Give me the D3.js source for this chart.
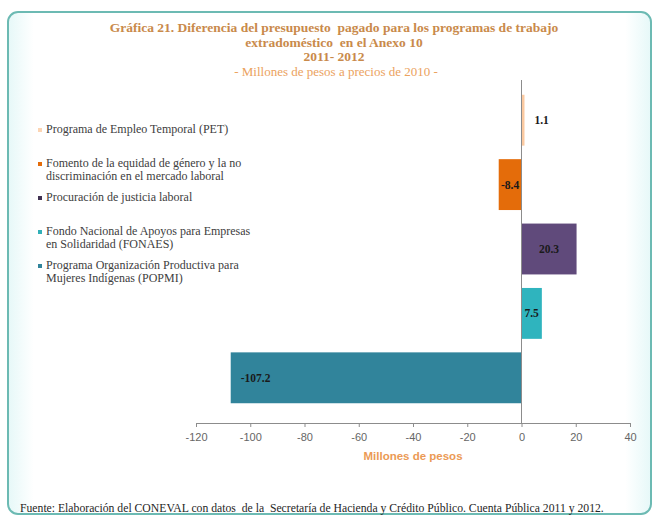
<!DOCTYPE html>
<html>
<head>
<meta charset="utf-8">
<script src="https://cdn.jsdelivr.net/npm/d3@7"></script>
<style>
  body { margin: 0; background: #fff; }
  text { white-space: pre; }
</style>
</head>
<body>
<div id="chart"></div>
<script>
// data
const programas = [
  "Programa de Empleo Temporal (PET)",
  "Fomento de la equidad de género y la no discriminación en el mercado laboral",
  "Procuración de justicia laboral",
  "Fondo Nacional de Apoyos para Empresas en Solidaridad (FONAES)",
  "Programa Organización Productiva para Mujeres Indígenas (POPMI)",
];
const legendLines = [
  ["Programa de Empleo Temporal (PET)"],
  ["Fomento de la equidad de género y la no", "discriminación en el mercado laboral"],
  ["Procuración de justicia laboral"],
  ["Fondo Nacional de Apoyos para Empresas", "en Solidaridad (FONAES)"],
  ["Programa Organización Productiva para", "Mujeres Indígenas (POPMI)"],
];
const diferencias = [1.1, -8.4, 20.3, 7.5, -107.2];
const barColors = ["#fbc9a0", "#e46c0a", "#604a7b", "#2fb4be", "#31849b"];
const legendColors = ["#fcd5b4", "#e46c0a", "#403151", "#31b0b8", "#31849b"];
const xTicks = [-120, -100, -80, -60, -40, -20, 0, 20, 40];

const titleLines = [
  "Gráfica 21. Diferencia del presupuesto  pagado para los programas de trabajo",
  "extradoméstico  en el Anexo 10",
  "2011- 2012",
];
const subtitle = "- Millones de pesos a precios de 2010 -";
const xTitle = "Millones de pesos";
const fuente = "Fuente: Elaboración del CONEVAL con datos  de la  Secretaría de Hacienda y Crédito Público. Cuenta Pública 2011 y 2012.";

const W = 653, H = 520;
const serif = "'Liberation Serif', 'DejaVu Serif', serif";
const sans = "'Liberation Sans', Arial, sans-serif";

const svg = d3.select("#chart").append("svg")
  .attr("width", W).attr("height", H);

// frame
const defs = svg.append("defs");
const glow = defs.append("linearGradient").attr("id", "glow")
  .attr("x1", 0).attr("x2", 1).attr("y1", 0).attr("y2", 0);
glow.append("stop").attr("offset", "0%").attr("stop-color", "#e6f8f8");
glow.append("stop").attr("offset", "4%").attr("stop-color", "#ffffff");
glow.append("stop").attr("offset", "96%").attr("stop-color", "#ffffff");
glow.append("stop").attr("offset", "100%").attr("stop-color", "#e6f8f8");

svg.append("rect")
  .attr("x", 8).attr("y", 12).attr("width", 643).attr("height", 502)
  .attr("rx", 10)
  .attr("fill", "url(#glow)")
  .attr("stroke", "#6cbab3").attr("stroke-width", 2);

// titles
svg.append("g").selectAll("text")
  .data(titleLines).join("text")
  .attr("x", 334).attr("y", (d, i) => 32 + i * 14.5)
  .attr("text-anchor", "middle")
  .attr("font-family", serif).attr("font-weight", "bold").attr("font-size", 13.5)
  .attr("fill", "#c98a4b")
  .text(d => d);

svg.append("text")
  .attr("x", 336).attr("y", 76)
  .attr("text-anchor", "middle")
  .attr("font-family", serif).attr("font-size", 13)
  .attr("fill", "#eba25e")
  .text(subtitle);

// scales
const x = d3.scaleLinear().domain([-120, 40]).range([196, 630]);
const y = d3.scaleBand().domain(programas).range([88, 410]).paddingInner(0.21).paddingOuter(0.105);
const axisY = 423;

// bars
svg.append("g").selectAll("rect")
  .data(diferencias).join("rect")
  .attr("x", d => x(Math.min(0, d)))
  .attr("y", (d, i) => y(programas[i]))
  .attr("width", d => Math.abs(x(d) - x(0)))
  .attr("height", y.bandwidth())
  .attr("fill", (d, i) => barColors[i]);

// zero line
svg.append("line")
  .attr("x1", x(0)).attr("x2", x(0))
  .attr("y1", 80).attr("y2", axisY)
  .attr("stroke", "#8c8c8c").attr("stroke-width", 1);

// bar labels
svg.append("g").selectAll("text")
  .data(diferencias).join("text")
  .attr("x", d => {
    const w = Math.abs(x(d) - x(0));
    if (w < 12) return x(d) + 10;
    if (w > 200) return x(d) + 10;
    return (x(d) + x(0)) / 2;
  })
  .attr("text-anchor", d => {
    const w = Math.abs(x(d) - x(0));
    return (w < 12 || w > 200) ? "start" : "middle";
  })
  .attr("y", (d, i) => y(programas[i]) + y.bandwidth() / 2 + 4)
  .attr("font-family", serif).attr("font-weight", "bold").attr("font-size", 11.5)
  .attr("fill", "#1a1a1a")
  .text(d => d.toFixed(1));

// axis
const xAxis = svg.append("g")
  .attr("transform", `translate(0, ${axisY})`)
  .call(d3.axisBottom(x).tickValues(xTicks).tickSize(4).tickPadding(6)
    .tickFormat(d => String(d)));
xAxis.select(".domain").attr("stroke", "#8c8c8c");
xAxis.selectAll(".tick line").attr("stroke", "#8c8c8c");
xAxis.selectAll(".tick text")
  .attr("font-family", sans).attr("font-size", 11).attr("fill", "#666");

svg.append("text")
  .attr("x", 413).attr("y", 460)
  .attr("text-anchor", "middle")
  .attr("font-family", sans).attr("font-weight", "bold").attr("font-size", 11.5)
  .attr("fill", "#eb9a55")
  .text(xTitle);

// legend
const legend = svg.append("g").selectAll("g")
  .data(legendLines).join("g")
  .attr("transform", (d, i) => `translate(38, ${133 + i * 34})`);

legend.append("rect")
  .attr("x", 0).attr("y", -5).attr("width", 4).attr("height", 4)
  .attr("fill", (d, i) => legendColors[i]);

legend.selectAll("text")
  .data(d => d).join("text")
  .attr("x", 8).attr("y", (d, j) => j * 13)
  .attr("font-family", serif).attr("font-size", 12)
  .attr("fill", "#404040")
  .text(d => d);

// source
svg.append("text")
  .attr("x", 20).attr("y", 512)
  .attr("font-family", serif).attr("font-size", 11.7)
  .attr("fill", "#262626")
  .text(fuente);
</script>
</body>
</html>
